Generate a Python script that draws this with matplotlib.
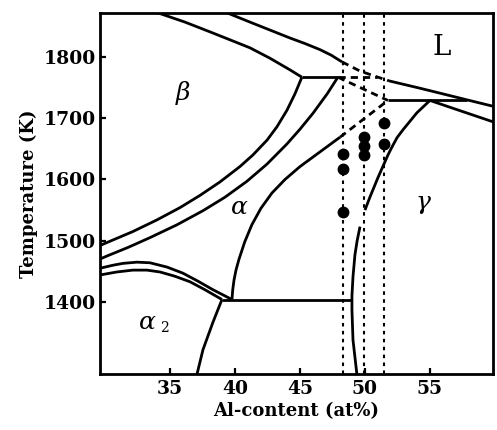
import matplotlib
matplotlib.use("Agg")
import matplotlib.pyplot as plt

# ---------------- data (Al content at%, temperature K) ----------------
x_ticks = [35, 40, 45, 50, 55]
y_ticks = [1400, 1500, 1600, 1700, 1800]

liquidus_x = [39.4, 41.15, 42.69, 44.23, 45.38, 46.54, 47.4, 48.23]
liquidus_T = [1872, 1857, 1844, 1831, 1822, 1812, 1803, 1792]
liquidus_dash_x = [48.23, 49.62, 51.0, 51.85]
liquidus_dash_T = [1792, 1777, 1767, 1761]
liquidus_r_x = [51.85, 54.23, 57.85, 60.15]
liquidus_r_T = [1761, 1749, 1730, 1718]

beta_solidus_x = [34.08, 36.15, 38.08, 39.62, 41.15, 42.69, 44.23, 45.15]
beta_solidus_T = [1872, 1857, 1841, 1828, 1815, 1798, 1779, 1767]

perit1_T = 1767
perit1_solid_x = [45.15, 47.92]
perit1_dash_x = [47.92, 50.95]

alphaL_dash_x = [47.92, 51.77]
alphaL_dash_T = [1767, 1729]

perit2_T = 1729
perit2_x = [51.77, 57.85]

gamma_solidus_x = [55.0, 57.5, 60.15]
gamma_solidus_T = [1729, 1711, 1692]

gamma_up_x = [55.0, 54.5, 54.0, 53.46, 52.92, 52.46, 52.08, 51.77, 51.0, 50.38, 50.0]
gamma_up_T = [1729, 1719, 1709, 1695, 1681, 1668, 1653, 1640, 1603, 1571, 1550]
gamma_lo_x = [49.62, 49.4, 49.23, 49.08, 49.0, 49.0, 49.08, 49.38]
gamma_lo_T = [1523, 1500, 1477, 1441, 1410, 1387, 1338, 1282]

alpha_x = [39.77, 39.83, 39.93, 40.08, 40.3, 40.75, 41.3, 42.0, 42.85,
           43.85, 45.0, 46.54, 48.08]
alpha_T = [1404, 1420, 1436, 1452, 1469, 1498, 1526, 1553, 1578,
           1600, 1621, 1645, 1669]
alpha_dash_x = [48.08, 51.77]
alpha_dash_T = [1669, 1729]

beta_tr_x = [45.15, 44.62, 44.0, 43.23, 42.46, 41.38, 40.38, 38.85, 37.31,
             35.77, 34.0, 32.15, 30.15, 29.6]
beta_tr_T = [1767, 1740, 1713, 1686, 1664, 1640, 1621, 1596, 1574,
             1554, 1534, 1515, 1497, 1492]
ab_tr_x = [47.92, 47.1, 46.0, 45.0, 44.0, 42.46, 40.92, 39.23, 37.54,
           35.54, 33.46, 31.77, 30.15, 29.6]
ab_tr_T = [1767, 1740, 1708, 1682, 1658, 1625, 1597, 1571, 1549,
           1526, 1505, 1489, 1475, 1470]

a_a2_x = [29.6, 30.62, 31.38, 32.46, 33.46, 34.77, 36.0, 37.15, 38.31, 39.77]
a_a2_T = [1455, 1460, 1463, 1465, 1464, 1457, 1447, 1434, 1420, 1404]
a2_x = [29.6, 30.92, 32.15, 33.23, 34.23, 35.38, 36.54, 37.69, 39.0]
a2_T = [1444, 1449, 1452, 1452, 1449, 1442, 1433, 1420, 1404]

a2_g_x = [39.0, 38.31, 37.54, 37.08]
a2_g_T = [1404, 1367, 1322, 1282]

eutectoid_T = 1404
eutectoid_x = [39.0, 49.0]

sample_x = [48.3, 49.95, 51.45]
samples_1 = [1642, 1617, 1547]
samples_2 = [1669, 1655, 1640]
samples_3 = [1692, 1658]

# ---------------- figure ----------------
fig = plt.figure(figsize=(4.97, 4.30), dpi=100)
ax = fig.add_axes([100 / 497, 1 - 374 / 430, 393 / 497, 361 / 430])
ax.set_xlim(29.62, 59.85)
ax.set_ylim(1282.4, 1871.8)

LW = 2.0
solid = dict(color="black", lw=LW, solid_capstyle="butt", solid_joinstyle="round")
dash = dict(color="black", lw=LW, linestyle=(0, (2.6, 1.8)), dash_capstyle="butt")

ax.plot(liquidus_x, liquidus_T, **solid)
ax.plot(liquidus_dash_x, liquidus_dash_T, **dash)
ax.plot(liquidus_r_x, liquidus_r_T, **solid)
ax.plot(beta_solidus_x, beta_solidus_T, **solid)
ax.plot(perit1_solid_x, [perit1_T] * 2, **solid)
ax.plot(perit1_dash_x, [perit1_T] * 2, **dash)
ax.plot(alphaL_dash_x, alphaL_dash_T, **dash)
ax.plot(perit2_x, [perit2_T] * 2, **solid)
ax.plot(gamma_solidus_x, gamma_solidus_T, **solid)
ax.plot(gamma_up_x, gamma_up_T, **solid)
ax.plot(gamma_lo_x, gamma_lo_T, **solid)
ax.plot(alpha_x, alpha_T, **solid)
ax.plot(alpha_dash_x, alpha_dash_T, **dash)
ax.plot(beta_tr_x, beta_tr_T, **solid)
ax.plot(ab_tr_x, ab_tr_T, **solid)
ax.plot(a_a2_x, a_a2_T, **solid)
ax.plot(a2_x, a2_T, **solid)
ax.plot(a2_g_x, a2_g_T, **solid)
ax.plot(eutectoid_x, [eutectoid_T] * 2, **solid)

for xv in sample_x:
    ax.axvline(xv, color="black", lw=1.5, linestyle=(0, (1.7, 2.1)))

for xv, ts in zip(sample_x, [samples_1, samples_2, samples_3]):
    ax.plot([xv] * len(ts), ts, "o", color="black", ms=7.5, mec="black")

# phase labels
greek = dict(family="DejaVu Serif", style="italic", fontsize=18, ha="center", va="center")
ax.text(36.0, 1741, "β", **greek)
ax.text(40.38, 1555, "α", **greek)
ax.text(54.46, 1562, "γ", **greek)
ax.text(33.23, 1366, "α", **greek)
ax.text(34.6, 1358, "2", family="DejaVu Serif", fontsize=10, ha="center", va="center")
ax.text(55.92, 1816, "L", family="DejaVu Serif", fontsize=20, ha="center", va="center")

# axes styling
for s in ax.spines.values():
    s.set_linewidth(2.0)
ax.set_xticks(x_ticks)
ax.set_yticks(y_ticks)
ax.tick_params(direction="in", length=4, width=1.6, pad=4)
ax.tick_params(axis="y", pad=3)
for lab in ax.get_xticklabels() + ax.get_yticklabels():
    lab.set_family("DejaVu Serif")
    lab.set_fontweight("bold")
    lab.set_fontsize(13.5)

ax.set_xlabel("Al-content (at%)", family="DejaVu Serif", fontweight="bold",
              fontsize=13, labelpad=3)
ax.set_ylabel("Temperature (K)", family="DejaVu Serif", fontweight="bold",
              fontsize=13, labelpad=4)

fig.savefig("out.png", dpi=100)
